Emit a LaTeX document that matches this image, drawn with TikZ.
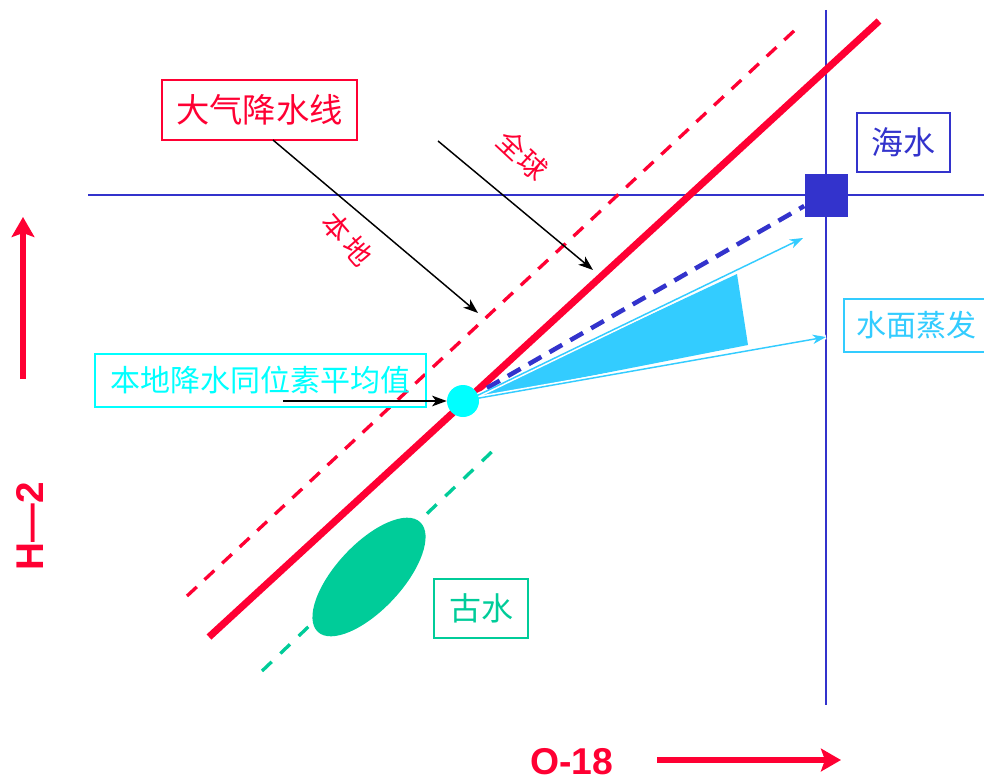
\documentclass[tikz,border=0pt]{standalone}
\usepackage{fontspec}
\setmainfont{Liberation Sans}
\newfontfamily\cjk{Noto Sans CJK SC}
\usetikzlibrary{arrows.meta,shapes.geometric}
\definecolor{cred}{HTML}{FF0033}
\definecolor{cblue}{HTML}{3333CC}
\definecolor{caqua}{HTML}{00FFFF}
\definecolor{csky}{HTML}{33CCFF}
\definecolor{cgreen}{HTML}{00CC99}
\begin{document}
\begin{tikzpicture}[x=0.75pt,y=-0.75pt,
  lbl/.style={draw, line width=1.5pt, inner sep=0pt, font=\cjk},
  axisline/.style={cblue, line width=1.5pt},
  pointer/.style={black, line width=1.1pt, -{Stealth[length=11pt,width=8pt,inset=3pt]}},
  skyarrow/.style={csky, line width=1.1pt, -{Stealth[length=10pt,width=7pt,inset=3pt]}},
  bigarrow/.style={cred, line width=4.8pt, -{Stealth[length=15pt,width=17pt,inset=3pt]}},
  tilted/.style={cred, font=\cjk\fontsize{21pt}{23pt}\selectfont, inner sep=0pt}]
\useasboundingbox (0,0) rectangle (984,781);
% axes
\coordinate (hl) at (88,195); \coordinate (hr) at (990,195);
\coordinate (vt) at (826,10); \coordinate (vb) at (826,705);
\draw[axisline] (hl) -- (hr);
\draw[axisline] (vt) -- (vb);
% meteoric water lines
\coordinate (ga) at (187,596); \coordinate (gb) at (795,30);
\draw[cred, line width=2.5pt, dash pattern=on 10pt off 8pt] (ga) -- (gb);
\coordinate (la) at (209,637); \coordinate (lb) at (879,21);
\draw[cred, line width=5.3pt] (la) -- (lb);
% paleowater line and ellipse
\coordinate (pa) at (262,671); \coordinate (pb) at (500,444);
\draw[cgreen, line width=2.5pt, dash pattern=on 10pt off 9pt] (pa) -- (pb);
\node[ellipse, fill=cgreen, inner sep=0pt, minimum width=112.5pt, minimum height=49.5pt, rotate=47] (el) at (369,577) {};
% evaporation fan
\coordinate (apex) at (468,400);
\coordinate (f1) at (737,274); \coordinate (f2) at (748,345);
\fill[csky] (apex) -- (f1) -- (f2) -- cycle;
\coordinate (t1) at (803,238); \coordinate (t2) at (826,337);
\draw[white, line width=3.5pt] (apex) -- (t1);
\draw[white, line width=3.5pt] (apex) -- (t2);
% sea water
\node[fill=cblue, draw=none, minimum size=32.25pt, inner sep=0pt] (sq) at (826,195) {};
\coordinate (bs) at (487,388);
\draw[cblue, line width=3.4pt, dash pattern=on 11pt off 7pt] (bs) -- (sq.west |- 0,206);
\draw[skyarrow] (apex) -- (t1);
\draw[skyarrow] (apex) -- (t2);
\node[circle, fill=caqua, minimum size=24pt, inner sep=0pt] (cc) at (463,401) {};
\node[fill=cblue, draw=none, minimum size=32.25pt, inner sep=0pt] at (826,195) {};
% labels
\node[lbl, cred, minimum width=146.25pt, minimum height=45pt, font=\cjk\fontsize{25pt}{28pt}\selectfont] (dq) at (259.5,110) {大气降水线};
\node[lbl, cblue, minimum width=69.75pt, minimum height=44.25pt, font=\cjk\fontsize{24pt}{27pt}\selectfont] (hs) at (903.5,142.5) {海水};
\node[lbl, csky, minimum width=108pt, minimum height=39.75pt, font=\cjk\fontsize{22.5pt}{25pt}\selectfont] (sm) at (916,325.5) {水面蒸发};
\node[lbl, caqua, minimum width=248.25pt, minimum height=39.75pt, font=\cjk\fontsize{22.5pt}{25pt}\selectfont] (bd) at (260.5,380.5) {本地降水同位素平均值};
\node[lbl, cgreen, minimum width=70.5pt, minimum height=44.25pt, font=\cjk\fontsize{24pt}{27pt}\selectfont] (gs) at (481,608.5) {古水};
\node[tilted, rotate=-43] (qq) at (522.5,155) {全\hspace{1pt}球};
\node[tilted, rotate=-49] (bdl) at (347.5,239) {本\hspace{3pt}地};
% pointers
\coordinate (p1s) at (273,140); \coordinate (p1e) at (478,313);
\coordinate (p2s) at (438,141); \coordinate (p2e) at (593,270);
\draw[pointer] (p1s) -- (p1e);
\draw[pointer] (p2s) -- (p2e);
\coordinate (p3s) at (283,401);
\draw[pointer] (p3s) -- (cc.west);
% axis arrows
\coordinate (ya) at (23,379); \coordinate (yb) at (23,217);
\draw[bigarrow] (ya) -- (yb);
\node[cred, font=\bfseries\fontsize{29pt}{32pt}\selectfont, rotate=90, anchor=base, inner sep=0pt] (hlab) at (43,526) {H—2};
\coordinate (xa) at (657,760); \coordinate (xb) at (841,760);
\draw[bigarrow] (xa) -- (xb);
\node[cred, font=\bfseries\fontsize{28pt}{30pt}\selectfont, anchor=base, inner sep=0pt] (olab) at (572,774) {O-18};
\end{tikzpicture}
\end{document}
